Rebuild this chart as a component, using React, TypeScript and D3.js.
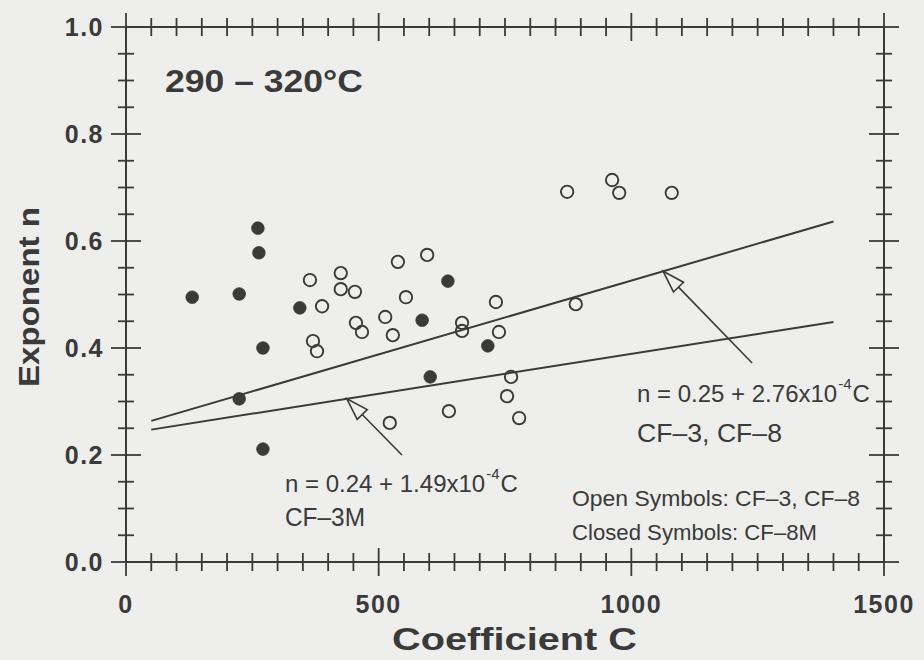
import React from "react";
import * as d3 from "d3";

const openC = [364, 425, 425, 453, 388, 538, 596, 554, 513, 455, 467, 528, 370, 378, 665, 665, 732, 738, 762, 754, 778, 639, 522, 873, 962, 976, 1080, 890];
const openN = [0.527, 0.54, 0.51, 0.505, 0.478, 0.561, 0.574, 0.495, 0.458, 0.447, 0.43, 0.424, 0.413, 0.394, 0.447, 0.432, 0.486, 0.43, 0.346, 0.31, 0.269, 0.282, 0.26, 0.692, 0.714, 0.69, 0.69, 0.482];
const closedC = [131, 224, 261, 263, 271, 224, 271, 344, 586, 637, 602, 716];
const closedN = [0.495, 0.501, 0.624, 0.578, 0.4, 0.305, 0.211, 0.475, 0.452, 0.525, 0.346, 0.404];

const fitRange = [50, 1400];
const fitUpper = { a: 0.25, b: 2.76e-4 };
const fitLower = { a: 0.24, b: 1.49e-4 };

const xTickLabels = [0, 500, 1000, 1500];
const yTickLabels = [0, 0.2, 0.4, 0.6, 0.8, 1.0];

const W = 924, H = 660;
const INK = "#3a3a3a";
const BG = "#eeeeec";
const SANS = "'Liberation Sans', Arial, Helvetica, sans-serif";
const NARROW = "'Liberation Sans Narrow', 'Arial Narrow', 'Liberation Sans', sans-serif";

export default function App() {
  const x = d3.scaleLinear().domain([0, 1500]).range([126, 884]);
  const y = d3.scaleLinear().domain([0, 1]).range([562, 27]);

  const xMinor = d3.range(0, 1500.01, 50);
  const yMinor = d3.range(0, 1.0001, 0.05);
  const isMajorX = (v: number) => Math.abs(v % 500) < 1e-6;
  const isMajorY = (v: number) => Math.abs(Math.round(v * 100) % 20) < 1e-6;

  const fitPath = (f: { a: number; b: number }) =>
    d3.line<number>().x((c) => x(c)).y((c) => y(f.a + f.b * c))(fitRange) || "";

  const arrow = (tailC: number, tailN: number, tipC: number, tipN: number) => {
    const x1 = x(tailC), y1 = y(tailN), x2 = x(tipC), y2 = y(tipN);
    const ang = Math.atan2(y2 - y1, x2 - x1);
    const L = 22, hw = 7;
    const bx = x2 - L * Math.cos(ang), by = y2 - L * Math.sin(ang);
    const px = -Math.sin(ang) * hw, py = Math.cos(ang) * hw;
    return (
      <g stroke={INK} strokeWidth={1.6} fill="none">
        <line x1={x1} y1={y1} x2={bx} y2={by} />
        <polygon points={`${x2},${y2} ${bx + px},${by + py} ${bx - px},${by - py}`} fill={BG} strokeLinejoin="miter" />
      </g>
    );
  };

  const equation = (xx: number, yy: number, body: string) => (
    <text x={xx} y={yy} fontSize={24}>
      {body}
      <tspan dy={-13} fontSize={15} dx={1}>-4</tspan>
      <tspan dy={13} dx={1}>C</tspan>
    </text>
  );

  return (
    <svg width={W} height={H} style={{ position: "absolute", left: 0, top: 0 }} xmlns="http://www.w3.org/2000/svg">
      <rect x={0} y={0} width={W} height={H} fill={BG} />
      <rect x={x(0)} y={y(1)} width={x(1500) - x(0)} height={y(0) - y(1)} fill="none" stroke={INK} strokeWidth={2} />
      <g stroke={INK} strokeWidth={1.8}>
        {xMinor.map((v) => {
          const h = isMajorX(v) ? 14 : 9;
          return (
            <g key={"x" + v}>
              <line x1={x(v)} x2={x(v)} y1={y(0) - h} y2={y(0) + h} />
              <line x1={x(v)} x2={x(v)} y1={y(1) - h} y2={y(1) + h} />
            </g>
          );
        })}
        {yMinor.map((v) => {
          const h = isMajorY(v) ? 15 : 8;
          return (
            <g key={"y" + v}>
              <line x1={x(0) - h} x2={x(0) + h} y1={y(v)} y2={y(v)} />
              <line x1={x(1500) - h} x2={x(1500) + h} y1={y(v)} y2={y(v)} />
            </g>
          );
        })}
      </g>
      <g fill={INK} fontFamily={SANS} fontWeight="bold" fontSize={25}>
        {xTickLabels.map((v) => (
          <text key={"xl" + v} x={x(v)} y={613} textAnchor="middle" letterSpacing={1.5}>{v}</text>
        ))}
        {yTickLabels.map((v) => (
          <text key={"yl" + v} x={104} y={y(v) + 9} textAnchor="end" letterSpacing={1.5}>{v.toFixed(1)}</text>
        ))}
      </g>
      <text x={392} y={650} fill={INK} fontFamily={SANS} fontWeight="bold" fontSize={31} textLength={245} lengthAdjust="spacingAndGlyphs">Coefficient C</text>
      <text transform="translate(39,297) rotate(-90)" fill={INK} fontFamily={SANS} fontWeight="bold" fontSize={29} textAnchor="middle" textLength={180} lengthAdjust="spacingAndGlyphs">Exponent n</text>
      <text x={165} y={92} fill={INK} fontFamily={SANS} fontWeight="bold" fontSize={32} textLength={198} lengthAdjust="spacingAndGlyphs">290 – 320°C</text>
      <g stroke={INK} strokeWidth={2} fill="none">
        <path d={fitPath(fitUpper)} />
        <path d={fitPath(fitLower)} />
      </g>
      {arrow(1239, 0.372, 1063, fitUpper.a + fitUpper.b * 1063)}
      {arrow(546, 0.2, 437, fitLower.a + fitLower.b * 437)}
      <g>
        {openC.map((c, i) => (
          <circle key={"o" + i} cx={x(c)} cy={y(openN[i])} r={6.2} fill="none" stroke={INK} strokeWidth={1.9} />
        ))}
        {closedC.map((c, i) => (
          <circle key={"c" + i} cx={x(c)} cy={y(closedN[i])} r={6.3} fill={INK} stroke={INK} strokeWidth={0.8} />
        ))}
      </g>
      <g fill={INK} fontFamily={NARROW} fontSize={25}>
        {equation(637, 402, "n = 0.25 + 2.76x10")}
        <text x={637} y={442} textLength={145} lengthAdjust="spacingAndGlyphs">CF–3,  CF–8</text>
        {equation(285, 492, "n = 0.24 + 1.49x10")}
        <text x={285} y={526} textLength={80} lengthAdjust="spacingAndGlyphs">CF–3M</text>
        <text x={572} y={506} fontSize={22} textLength={288} lengthAdjust="spacingAndGlyphs">Open Symbols: CF–3, CF–8</text>
        <text x={572} y={540} fontSize={22} textLength={245} lengthAdjust="spacingAndGlyphs">Closed Symbols: CF–8M</text>
      </g>
    </svg>
  );
}
